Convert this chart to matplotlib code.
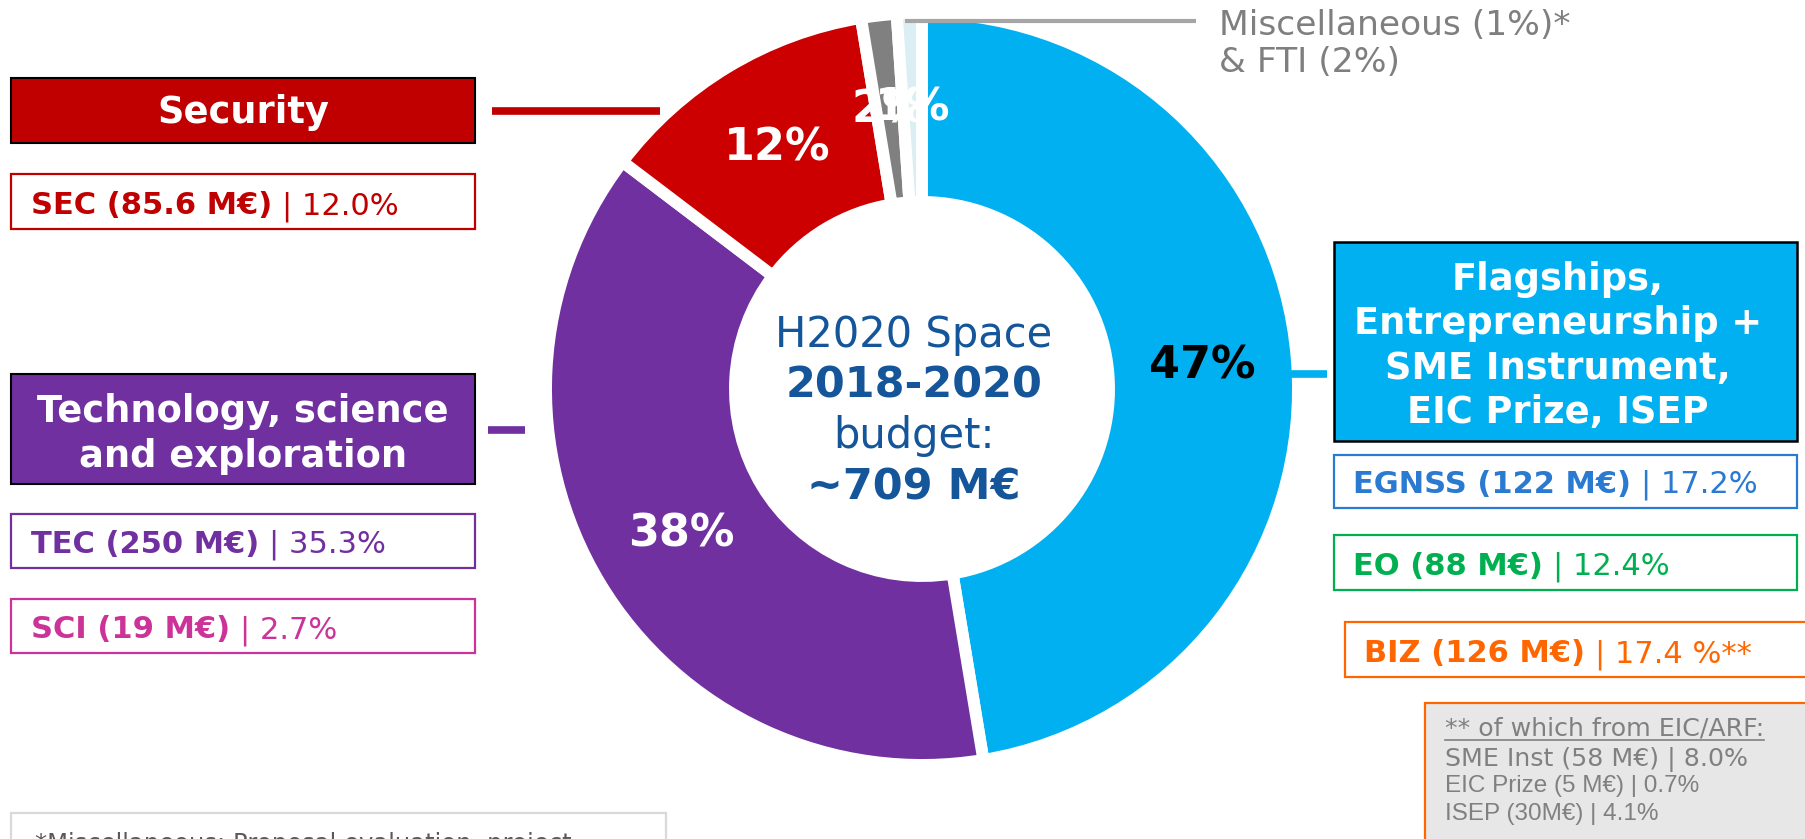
import matplotlib
matplotlib.use('Agg')
import matplotlib.pyplot as plt
from matplotlib.patches import Rectangle

W, H = 1806, 839
plt.rcParams['font.family'] = ['DejaVu Sans']

# ---------------- data ----------------
segment_names = ['Flagships, Entrepreneurship + SME Instrument, EIC Prize, ISEP',
                 'Technology, science and exploration', 'Security', 'FTI', 'Miscellaneous']
segment_budget = [336.0, 269.0, 85.6, 10.8, 7.6]          # M€ (sum ~709)
segment_colors = ['#00B0F0', '#7030A0', '#CC0000', '#808080', '#DAEEF3']
label_colors = ['black', 'white', 'white', 'white', 'white']

sub_codes = ['SEC', 'TEC', 'SCI', 'EGNSS', 'EO', 'BIZ']
sub_budget = ['85.6 M€', '250 M€', '19 M€', '122 M€', '88 M€', '126 M€']
sub_share = ['12.0%', '35.3%', '2.7%', '17.2%', '12.4%', '17.4 %**']
sub_colors = ['#C00000', '#7030A0', '#CC3399', '#2A7AD2', '#00B050', '#FF6600']

group_titles = ['Security', 'Technology, science\nand exploration',
                'Flagships,\nEntrepreneurship +\nSME Instrument,\nEIC Prize, ISEP']
group_colors = ['#C00000', '#7030A0', '#00B0F0']

center_lines = ['H2020 Space', '2018-2020', 'budget:', '~709 M€']
misc_lines = ['Miscellaneous (1%)*', '& FTI (2%)']
note_lines = ['** of which from EIC/ARF:', 'SME Inst (58 M€) | 8.0%',
              'EIC Prize (5 M€) | 0.7%', 'ISEP (30M€) | 4.1%']
footnote = '*Miscellaneous: Proposal evaluation, project'

# ---------------- figure ----------------
fig = plt.figure(figsize=(W / 100, H / 100), dpi=100)
ax = fig.add_axes([0, 0, 1, 1])


def fy(y):
    return H - y


R_out = 376
wedges, texts, autotexts = ax.pie(
    segment_budget, colors=segment_colors, startangle=90, counterclock=False,
    radius=R_out, center=(922, fy(389)),
    wedgeprops=dict(width=189, edgecolor='white', linewidth=8.6),
    autopct=lambda p: f'{p:.0f}%', pctdistance=0.747,
    textprops=dict(fontsize=32, fontweight='bold', color='white'))
for t, c in zip(autotexts, label_colors):
    t.set_color(c)

ax.set_xlim(0, W)
ax.set_ylim(0, H)
ax.set_aspect('auto')
ax.axis('off')


def box(x0, y0, x1, y1, fc, ec, lw=1.5):
    ax.add_patch(Rectangle((x0, fy(y1)), x1 - x0, y1 - y0, facecolor=fc,
                           edgecolor=ec, linewidth=lw, zorder=3))


# group title boxes
box(11.5, 78, 475, 143, group_colors[0], 'black', 1.5)
box(11.5, 374, 475, 484, group_colors[1], 'black', 1.5)
box(1334, 242, 1797, 441, group_colors[2], 'black', 1.8)

tprops = dict(color='white', fontweight='bold', fontsize=26.5, ha='center',
              va='baseline', zorder=4)
ax.text(243, fy(123), group_titles[0], **tprops)
for i, line in enumerate(group_titles[1].split('\n')):
    ax.text(243, fy(422 + 45 * i), line, **tprops)
for i, line in enumerate(group_titles[2].split('\n')):
    ax.text(1558, fy(290 + 44.5 * i), line, **tprops)

# connector lines
ax.plot([492, 660], [fy(111), fy(111)], color='#C00000', lw=5.5, solid_capstyle='butt', zorder=2)
ax.plot([488, 525], [fy(430), fy(430)], color='#7030A0', lw=5.5, solid_capstyle='butt', zorder=2)
ax.plot([1288, 1327], [fy(374), fy(374)], color='#00B0F0', lw=5.5, solid_capstyle='butt', zorder=2)
ax.plot([905, 1196], [fy(20.5), fy(20.5)], color='#A6A6A6', lw=3, solid_capstyle='butt', zorder=5)

# sub boxes
sub_boxes = [(11.5, 174, 475, 229), (11.5, 514, 475, 568), (11.5, 599, 475, 653),
             (1334, 455, 1797, 508), (1334, 535, 1797, 590), (1345, 622, 1830, 677)]
sub_text_x = [31, 31, 31, 1353, 1353, 1364]

renderer = fig.canvas.get_renderer()
inv = ax.transData.inverted()
for code, bud, share, col, (x0, y0, x1, y1), tx in zip(sub_codes, sub_budget, sub_share,
                                                      sub_colors, sub_boxes, sub_text_x):
    box(x0, y0, x1, y1, 'white', col, 1.6)
    base = fy(y1 - 15)
    t1 = ax.text(tx, base, f'{code} ({bud})', color=col, fontweight='bold', fontsize=22,
                 ha='left', va='baseline', zorder=4)
    bb = t1.get_window_extent(renderer)
    xr = inv.transform((bb.x1, bb.y0))[0]
    ax.text(xr + 10, base, f'| {share}', color=col, fontsize=22,
            ha='left', va='baseline', zorder=4)

# note box (grey)
box(1425, 703, 1830, 860, '#E7E7E7', '#FF6600', 1.6)
t = ax.text(1445, fy(736), note_lines[0], color='#808080', fontsize=18.2,
            ha='left', va='baseline', zorder=4)
bb = t.get_window_extent(renderer)
ux0 = inv.transform((bb.x0, bb.y0))[0]
ux1 = inv.transform((bb.x1, bb.y0))[0]
ax.plot([ux0, ux1], [fy(739.5), fy(739.5)], color='#808080', lw=1.2, zorder=4)
ax.text(1445, fy(766), note_lines[1], color='#808080', fontsize=18.2,
        ha='left', va='baseline', zorder=4)
ax.text(1445, fy(792), note_lines[2], color='#808080', fontsize=17.5,
        family='Liberation Sans', ha='left', va='baseline', zorder=4)
ax.text(1445, fy(820), note_lines[3], color='#808080', fontsize=17.5,
        family='Liberation Sans', ha='left', va='baseline', zorder=4)

# footnote box (cut at bottom)
box(11, 813, 666, 870, 'white', '#D9D9D9', 1.6)
ax.text(35, fy(851), footnote, color='#595959', fontsize=17.5, ha='left',
        va='baseline', zorder=4)

# misc label
ax.text(1219, fy(35), misc_lines[0], color='#7F7F7F', fontsize=24.8, ha='left',
        va='baseline', zorder=4)
ax.text(1219, fy(72), misc_lines[1], color='#7F7F7F', fontsize=24.8, ha='left',
        va='baseline', zorder=4)

# centre text
ccol = '#15569A'
ax.text(914, fy(347), center_lines[0], color=ccol, fontsize=30, ha='center', va='baseline')
ax.text(914, fy(398), center_lines[1], color=ccol, fontsize=31, fontweight='bold',
        ha='center', va='baseline')
ax.text(914, fy(448), center_lines[2], color=ccol, fontsize=30, ha='center', va='baseline')
ax.text(914, fy(500), center_lines[3], color=ccol, fontsize=31, fontweight='bold',
        ha='center', va='baseline')

fig.savefig('out.png', dpi=100)
